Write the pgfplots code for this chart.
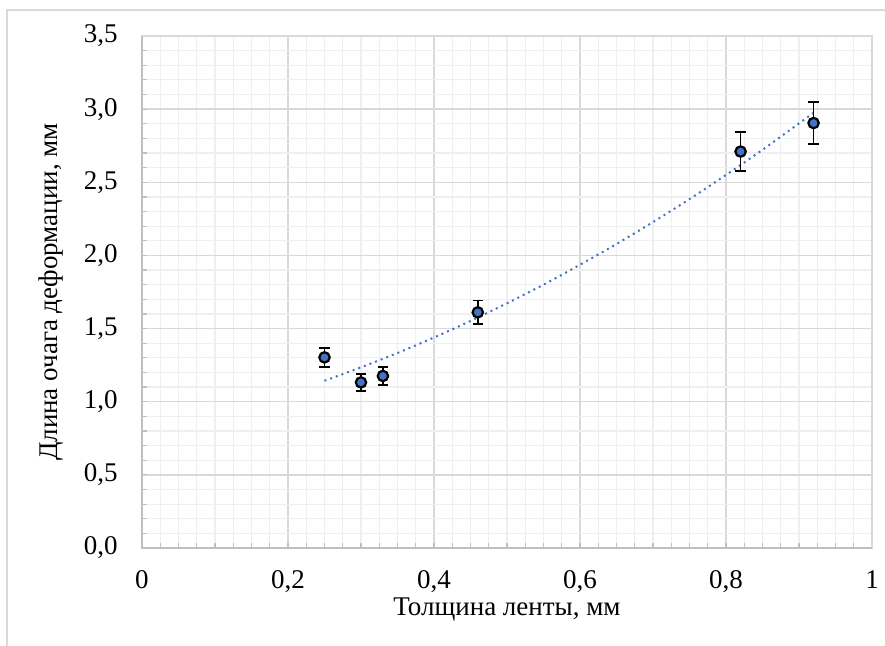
\documentclass[border=0pt]{standalone}
\usepackage{fontspec}
\setmainfont{Liberation Serif}
\usepackage{pgfplots}
\pgfplotsset{compat=1.18}
\definecolor{ptblue}{HTML}{4472C4}
\definecolor{majgrid}{HTML}{D9D9D9}
\definecolor{mingrid}{HTML}{EFEFEF}
\definecolor{axline}{HTML}{BFBFBF}
\definecolor{frame}{HTML}{D9D9D9}

\begin{document}
\fontsize{13.5}{16}\selectfont
\begin{tikzpicture}
\begin{axis}[
  scale only axis, width=365pt, height=256pt,
  xmin=0, xmax=1, ymin=0, ymax=3.5,
  xtick={0,0.2,0.4,0.6,0.8,1},
  ytick={0,0.5,1,1.5,2,2.5,3,3.5},
  minor x tick num=7, minor y tick num=4,
  grid=both,
  major grid style={majgrid, line width=0.7pt},
  minor grid style={mingrid, line width=0.6pt},
  axis line style={majgrid, line width=0.7pt},
  tick align=inside, xtick pos=bottom, ytick pos=left,
  major tick length=2.5pt, minor tick length=2.5pt,
  every tick/.style={axline, line width=0.6pt},
  /pgf/number format/assume math mode=true,
  /pgf/number format/use comma,
  xticklabel style={anchor=base, yshift=-20.5pt, inner sep=0pt},
  yticklabel style={anchor=east, inner sep=0pt, xshift=-12pt,
    /pgf/number format/fixed, /pgf/number format/fixed zerofill,
    /pgf/number format/precision=1},
  xlabel={Толщина ленты, мм},
  ylabel={Длина очага деформации, мм},
  xlabel style={at={(axis description cs:0.5,-0.132)}, anchor=base, inner sep=0pt},
  ylabel style={at={(axis description cs:-0.1164,0.5)}, anchor=base, inner sep=0pt},
  clip=false,
]
% polynomial trend (2nd order), values read off
\addplot[ptblue, line width=1pt, dotted, smooth] coordinates {
  (0.25,1.143) (0.30,1.235) (0.35,1.333) (0.40,1.439) (0.45,1.552)
  (0.50,1.673) (0.55,1.800) (0.60,1.936) (0.65,2.078) (0.70,2.228)
  (0.75,2.385) (0.80,2.550) (0.85,2.722) (0.92,2.975)};
% measurements with error bars
\addplot[only marks, mark=*, mark size=2.6pt,
  mark options={fill=ptblue, draw=black, line width=1.1pt},
  error bars/.cd, y dir=both, y explicit,
  error bar style={black, line width=0.8pt},
  error mark options={rotate=90, black, line width=0.8pt, mark size=2.6pt}]
  coordinates {
  (0.25,1.303) +- (0,0.065)
  (0.30,1.132) +- (0,0.058)
  (0.33,1.176) +- (0,0.060)
  (0.46,1.611) +- (0,0.080)
  (0.82,2.710) +- (0,0.132)
  (0.92,2.905) +- (0,0.145)};
\draw[axline, line width=0.7pt] (rel axis cs:0,1) -- (rel axis cs:0,0) -- (rel axis cs:1,0);
\end{axis}
% chart-area frame
\draw[frame, line width=0.7pt] (-67.5pt,-49pt) -- (-67.5pt,269pt) -- (371.5pt,269pt);
\pgfresetboundingbox
\path[use as bounding box] (-71pt,-49pt) rectangle (371.5pt,274pt);
\end{tikzpicture}
\end{document}
